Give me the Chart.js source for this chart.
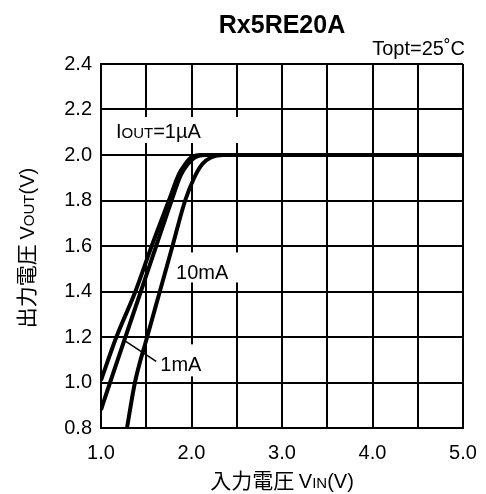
<!DOCTYPE html>
<html>
<head>
<meta charset="utf-8">
<script src="https://cdn.jsdelivr.net/npm/chart.js@4"></script>
<style>
html, body { margin: 0; padding: 0; background: #fff; }
canvas { display: block; }
</style>
</head>
<body>
<canvas id="vinChart" width="486" height="494"></canvas>
<script>
// Values (VIN vs VOUT)
const chartTitle = 'Rx5RE20A';
const condition = 'Topt=25˚C';

const vin1uA  = [1.0, 1.17, 1.38, 1.56, 1.75, 1.86, 1.93, 2.0, 2.1, 2.2, 5.0];
const vout1uA = [1.01, 1.2, 1.4, 1.6, 1.8, 1.915, 1.96, 1.99, 2.0, 2.0, 2.0];

const vin1mA  = [1.0, 1.1, 1.27, 1.44, 1.61, 1.78, 1.88, 1.96, 2.04, 2.15, 2.25, 5.0];
const vout1mA = [0.88, 1.0, 1.2, 1.4, 1.6, 1.8, 1.91, 1.96, 1.99, 2.0, 2.0, 2.0];

const vin10mA  = [1.287, 1.375, 1.51, 1.65, 1.79, 1.93, 2.03, 2.12, 2.22, 2.35, 2.5, 5.0];
const vout10mA = [0.8, 1.0, 1.2, 1.4, 1.6, 1.8, 1.9, 1.96, 1.99, 2.0, 2.0, 2.0];

const xMin = 1.0, xMax = 5.0, xStep = 0.5;
const yMin = 0.8, yMax = 2.4, yStep = 0.2;

const sans = '"Liberation Sans", Arial, sans-serif';
const cjk = '"Noto Sans CJK JP", "Noto Sans CJK SC", sans-serif';

function toPoints(xs, ys) {
  return xs.map((x, i) => ({ x: x, y: ys[i] }));
}

// draw a row of text pieces with different fonts (small caps subscripts)
function drawRuns(ctx, runs, x, y, align) {
  let w = 0;
  runs.forEach(r => { ctx.font = r.font; w += ctx.measureText(r.text).width; });
  let cx = align === 'center' ? x - w / 2 : (align === 'right' ? x - w : x);
  ctx.textAlign = 'left';
  ctx.textBaseline = 'alphabetic';
  runs.forEach(r => {
    ctx.font = r.font;
    ctx.fillText(r.text, cx, y);
    cx += ctx.measureText(r.text).width;
  });
  return w;
}

const big = '20px ' + sans;
const small = '15px ' + sans;

// curve labels, anchored in data units (left edge, baseline)
const curveLabels = [
  { runs: [{ text: 'I', font: big }, { text: 'OUT', font: small }, { text: '=1µA', font: big }],
    x: 1.165, y: 2.075, box: [-4, -21, 124, 5] },
  { runs: [{ text: '10mA', font: big }], x: 1.83, y: 1.453, box: [-4, -27, 64, 3] },
  { runs: [{ text: '1mA', font: big }], x: 1.655, y: 1.049, box: [-4, -27, 50, 5] }
];
const leader = { x1: 1.257, y1: 1.185, x2: 1.61, y2: 1.093 };

const labelPlugin = {
  id: 'labels',
  beforeDatasetsDraw(chart) {
    const ctx = chart.ctx;
    const xs = chart.scales.x, ys = chart.scales.y;
    ctx.save();
    curveLabels.forEach(l => {
      const px = xs.getPixelForValue(l.x), py = ys.getPixelForValue(l.y);
      ctx.fillStyle = '#fff';
      ctx.fillRect(px + l.box[0], py + l.box[1], l.box[2] - l.box[0], l.box[3] - l.box[1]);
      ctx.fillStyle = '#000';
      drawRuns(ctx, l.runs, px, py, 'left');
    });
    ctx.strokeStyle = '#000';
    ctx.lineWidth = 1.5;
    ctx.beginPath();
    ctx.moveTo(xs.getPixelForValue(leader.x1), ys.getPixelForValue(leader.y1));
    ctx.lineTo(xs.getPixelForValue(leader.x2), ys.getPixelForValue(leader.y2));
    ctx.stroke();
    ctx.restore();
  },
  afterDraw(chart) {
    const ctx = chart.ctx;
    const area = chart.chartArea;
    ctx.save();
    ctx.fillStyle = '#000';
    ctx.font = 'bold 25px ' + sans;
    ctx.textAlign = 'center';
    ctx.textBaseline = 'alphabetic';
    ctx.fillText(chartTitle, (area.left + area.right) / 2, 33);
    ctx.font = '20px ' + sans;
    ctx.textAlign = 'right';
    ctx.fillText(condition, area.right + 2, 55);

    // axis titles
    const cj = '21px ' + cjk;
    drawRuns(ctx, [
      { text: '入力電圧 ', font: cj }, { text: 'V', font: big },
      { text: 'IN', font: small }, { text: '(V)', font: big }
    ], (area.left + area.right) / 2, 488, 'center');

    ctx.translate(34, (area.top + area.bottom) / 2 + 2);
    ctx.rotate(-Math.PI / 2);
    drawRuns(ctx, [
      { text: '出力電圧 ', font: cj }, { text: 'V', font: big },
      { text: 'OUT', font: small }, { text: '(V)', font: big }
    ], 0, 0, 'center');
    ctx.restore();
  }
};

Chart.defaults.font.family = sans;
Chart.defaults.font.size = 20;
Chart.defaults.color = '#000';

function curve(xs, ys) {
  return {
    data: toPoints(xs, ys),
    borderColor: '#000',
    borderWidth: 4,
    pointRadius: 0,
    fill: false,
    cubicInterpolationMode: 'monotone'
  };
}

const ctx = document.getElementById('vinChart').getContext('2d');
new Chart(ctx, {
  type: 'line',
  data: {
    datasets: [curve(vin1uA, vout1uA), curve(vin1mA, vout1mA), curve(vin10mA, vout10mA)]
  },
  options: {
    responsive: false,
    animation: false,
    layout: { padding: { top: 64, right: 23, bottom: 0, left: 0 } },
    plugins: { legend: { display: false }, tooltip: { enabled: false } },
    scales: {
      x: {
        type: 'linear',
        min: xMin, max: xMax,
        ticks: {
          stepSize: xStep,
          padding: 13,
          maxRotation: 0,
          autoSkip: false,
          callback: v => (Math.abs(v - Math.round(v)) < 1e-6 ? v.toFixed(1) : '')
        },
        grid: { color: '#000', lineWidth: 2, drawTicks: false },
        border: { color: '#000', width: 2 },
        afterFit(scale) {
          scale.height = 66;
          scale.paddingRight = 0;
          scale.paddingLeft = 0;
        }
      },
      y: {
        min: yMin, max: yMax,
        ticks: {
          stepSize: yStep,
          padding: 9,
          callback: v => v.toFixed(1)
        },
        grid: { color: '#000', lineWidth: 2, drawTicks: false },
        border: { color: '#000', width: 2 },
        afterFit(scale) {
          scale.width = 101;
          scale.paddingTop = 0;
          scale.paddingBottom = 0;
        }
      }
    }
  },
  plugins: [labelPlugin]
});
</script>
</body>
</html>
